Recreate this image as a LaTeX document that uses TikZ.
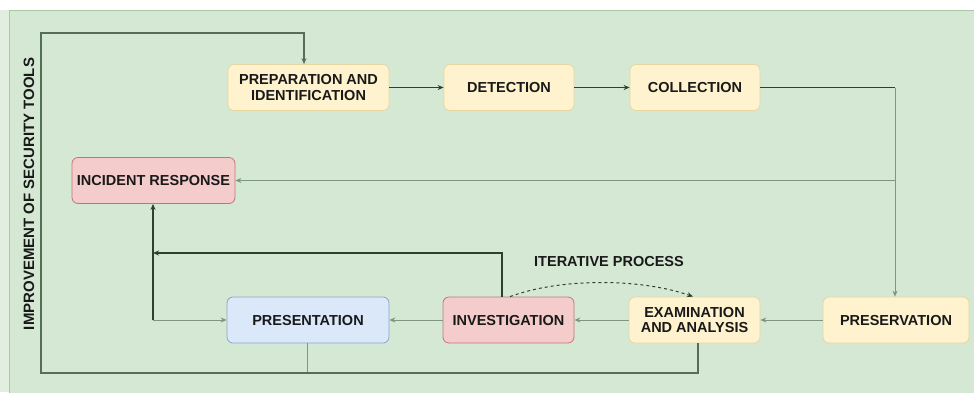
\documentclass[tikz,border=0pt]{standalone}
\usepackage{fontspec}
\setmainfont{Liberation Sans}
\usetikzlibrary{arrows.meta}
\definecolor{bggreen}{RGB}{213,232,212}
\definecolor{bgstrip}{RGB}{226,238,224}
\definecolor{bgedge}{RGB}{170,200,165}
\definecolor{yfill}{RGB}{255,242,206}
\definecolor{yedge}{RGB}{232,214,160}
\definecolor{rfill}{RGB}{245,204,204}
\definecolor{redge}{RGB}{190,120,115}
\definecolor{bfill}{RGB}{218,232,250}
\definecolor{bedge}{RGB}{140,165,200}
\definecolor{darkline}{RGB}{45,65,45}
\definecolor{midline}{RGB}{85,110,85}
\definecolor{thinline}{RGB}{125,150,125}
\definecolor{txt}{RGB}{25,25,25}
\tikzset{
  box/.style={rounded corners=6pt, minimum height=46pt, align=center, font=\fontsize{14.5}{15.5}\selectfont\bfseries, text=txt, line width=0.8pt, inner sep=2pt},
  ybox/.style={box, fill=yfill, draw=yedge},
  rbox/.style={box, fill=rfill, draw=redge},
  bbox/.style={box, fill=bfill, draw=bedge},
  darkarrow/.style={draw=darkline, line width=1.4pt, -{Stealth[length=6pt,width=5pt]}},
  darkplain/.style={draw=darkline, line width=1.4pt},
  midarrow/.style={draw=midline, line width=1.1pt, -{Stealth[length=6pt,width=5pt]}},
  thinarrow/.style={draw=thinline, line width=0.9pt, -{Stealth[length=6pt,width=5pt]}},
  thinplain/.style={draw=thinline, line width=0.9pt},
  lbl/.style={font=\fontsize{14.5}{15.5}\selectfont\bfseries, text=txt}
}
\begin{document}
\begin{tikzpicture}[x=1pt,y=-1pt]
\useasboundingbox (0,0) rectangle (974,392);
\fill[white] (0,0) rectangle (974,392);
\fill[bgstrip] (0,10) rectangle (974,392);
\filldraw[fill=bggreen, draw=bgedge, line width=1pt] (9,10) rectangle (975,393);

% nodes
\node[ybox, minimum width=161pt] (prep) at (308.5,87.5) {PREPARATION AND\\IDENTIFICATION};
\node[ybox, minimum width=130pt] (det) at (509,87.5) {DETECTION};
\node[ybox, minimum width=130pt] (col) at (695,87.5) {COLLECTION};
\node[rbox, minimum width=163pt] (inc) at (153.5,180.5) {INCIDENT RESPONSE};
\node[bbox, minimum width=162pt] (pres) at (308,320) {PRESENTATION};
\node[rbox, minimum width=131pt] (inv) at (508.5,320) {INVESTIGATION};
\node[ybox, minimum width=131pt] (exam) at (694.5,320) {EXAMINATION\\AND ANALYSIS};
\node[ybox, minimum width=146pt] (prsv) at (896,320) {PRESERVATION};

\node[lbl] (iter) at (609,261) {ITERATIVE PROCESS};
\node[lbl, rotate=90, font=\fontsize{15}{16}\selectfont\bfseries] (impr) at (29,194) {IMPROVEMENT OF SECURITY TOOLS};

% coordinates
\coordinate (c1) at (895,87.5);
\coordinate (c2) at (895,180.5);
\coordinate (j1) at (153,253);
\coordinate (j2) at (153,320);
\coordinate (b1) at (41,373);
\coordinate (b2) at (41,33);
\coordinate (b3) at (304,33);

% connectors
\draw[darkarrow] (prep) -- (det);
\draw[darkarrow] (det) -- (col);
\draw[darkplain] (col.east) -- (c1);
\draw[thinarrow] (c1) -- (prsv.north -| c1);
\draw[thinarrow] (c2) -- (inc.east);
\draw[thinarrow] (prsv) -- (exam);
\draw[thinarrow] (exam) -- (inv);
\draw[thinarrow] (inv) -- (pres);
\draw[thinarrow] (j2) -- (pres.west);
\draw[darkarrow] (j2) -- (inc.south -| j2);
\draw[darkarrow] (inv.north -| 502,0) |- (j1);
\draw[thinplain] (pres.south -| 307,0) -- (307,373);
\draw[midarrow] (exam.south -| 698,0) |- (b1) -- (b2) -| (prep.north -| b3);
\draw[darkline, line width=1pt, dashed, -{Stealth[length=6pt,width=5pt]}] (inv.north -| 510,0) .. controls (560,278) and (640,278) .. (exam.north -| 693,0);
\end{tikzpicture}
\end{document}
